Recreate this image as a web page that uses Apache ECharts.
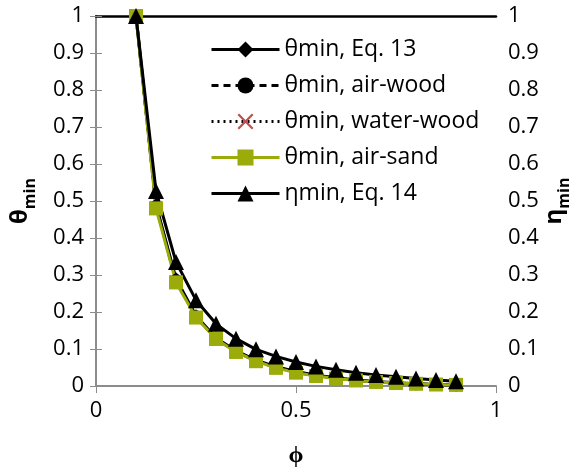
<!DOCTYPE html>
<html>
<head>
<meta charset="utf-8">
<script src="https://cdn.jsdelivr.net/npm/echarts@6/dist/echarts.min.js"></script>
<style>html,body{margin:0;padding:0;background:#fff;}#c{width:581px;height:474px;}</style>
</head>
<body>
<div id="c"></div>
<script>
const phi = [0.1,0.15,0.2,0.25,0.3,0.35,0.4,0.45,0.5,0.55,0.6,0.65,0.7,0.75,0.8,0.85,0.9];
const thetaEq13 = [1,0.49,0.29,0.19,0.13,0.095,0.07,0.052,0.039,0.029,0.022,0.016,0.012,0.009,0.006,0.004,0.003];
const thetaAirWood = [1,0.485,0.285,0.187,0.128,0.093,0.068,0.05,0.037,0.028,0.021,0.015,0.011,0.008,0.006,0.004,0.003];
const thetaWaterWood = [1,0.483,0.283,0.186,0.127,0.093,0.068,0.05,0.037,0.028,0.021,0.015,0.011,0.008,0.006,0.004,0.003];
const thetaAirSand = [1,0.48,0.28,0.185,0.127,0.092,0.067,0.049,0.036,0.027,0.02,0.015,0.011,0.008,0.006,0.004,0.003];
const etaEq14 = [1,0.527,0.335,0.232,0.168,0.128,0.099,0.08,0.065,0.053,0.044,0.036,0.03,0.025,0.02,0.016,0.013];
const seriesNames = ['θmin, Eq. 13','θmin, air-wood','θmin, water-wood','θmin, air-sand','ηmin, Eq. 14'];
const yTicks = [0,0.1,0.2,0.3,0.4,0.5,0.6,0.7,0.8,0.9,1];

const pair = arr => phi.map((p,i)=>[p,arr[i]]);
const FONT = 'Open Sans';
const GREEN = '#9aab0a';
const crossPath = 'path://M1,0 L5,4 L9,0 L10,1 L6,5 L10,9 L9,10 L5,6 L1,10 L0,9 L4,5 L0,1 Z';

const chart = echarts.init(document.getElementById('c'));
const yAxisCommon = {
  type:'value', min:0, max:1, interval:0.1,
  axisLine:{show:true, lineStyle:{color:'#8c8c8c', width:2}},
  axisTick:{show:true, length:6, lineStyle:{color:'#8c8c8c', width:1}},
  splitLine:{show:false},
  axisLabel:{fontFamily:FONT, fontSize:22, color:'#000'},
  nameLocation:'middle', nameRotate:90, nameMoveOverlap:false
};
const nameRich = {t:{fontFamily:FONT, fontSize:24, fontWeight:'bold', color:'#000'},
                  s:{fontFamily:FONT, fontSize:16, fontWeight:'bold', color:'#000', padding:[20,0,0,0]}};
chart.setOption({
  animation:false,
  grid:{left:96, right:85, top:16, bottom:88, outerBoundsMode:'none', containLabel:false},
  xAxis:[{
    type:'value', min:0, max:1, interval:0.5,
    axisLine:{show:true, onZero:false, lineStyle:{color:'#8c8c8c', width:2}},
    axisTick:{show:true, length:7, lineStyle:{color:'#8c8c8c', width:1}},
    splitLine:{show:false},
    axisLabel:{fontFamily:FONT, fontSize:22, color:'#000', margin:14},
    name:'ϕ', nameLocation:'middle', nameGap:57, nameMoveOverlap:false,
    nameTextStyle:{fontFamily:FONT, fontSize:24, fontWeight:'bold', color:'#000'}
  },{
    type:'value', position:'top', min:0, max:1,
    axisLine:{show:true, onZero:false, lineStyle:{color:'#000', width:2.5}},
    axisTick:{show:false}, axisLabel:{show:false}, splitLine:{show:false}
  }],
  yAxis:[
    Object.assign({}, yAxisCommon, {position:'left', axisLabel:Object.assign({}, yAxisCommon.axisLabel, {margin:12}),
      name:'{t|θ}{s|min}', nameGap:58, nameTextStyle:{rich:nameRich}}),
    Object.assign({}, yAxisCommon, {position:'right', axisLabel:Object.assign({}, yAxisCommon.axisLabel, {margin:12}),
      name:'{t|η}{s|min}', nameGap:40, nameTextStyle:{rich:nameRich}})
  ],
  legend:{
    orient:'vertical', left:205, top:33, itemWidth:68, itemHeight:20, itemGap:13,
    lineStyle:{width:3},
    textStyle:{fontFamily:FONT, fontSize:23, color:'#000'},
    data:seriesNames
  },
  series:[
    {name:seriesNames[0], type:'line', data:pair(thetaEq13), symbol:'diamond', symbolSize:13,
     itemStyle:{color:'#000'}, lineStyle:{color:'#000', width:3}},
    {name:seriesNames[1], type:'line', data:pair(thetaAirWood), symbol:'circle', symbolSize:13,
     itemStyle:{color:'#000'}, lineStyle:{color:'#000', width:3, type:[7,5]}},
    {name:seriesNames[2], type:'line', data:pair(thetaWaterWood), symbol:crossPath, symbolSize:13,
     itemStyle:{color:'#c0504d'}, lineStyle:{color:'#000', width:2, type:[2,4]}},
    {name:seriesNames[3], type:'line', data:pair(thetaAirSand), symbol:'rect', symbolSize:14,
     itemStyle:{color:GREEN}, lineStyle:{color:GREEN, width:3}},
    {name:seriesNames[4], type:'line', yAxisIndex:1, data:pair(etaEq14), symbol:'triangle', symbolSize:16,
     itemStyle:{color:'#000'}, lineStyle:{color:'#000', width:3}}
  ]
});
</script>
</body>
</html>
